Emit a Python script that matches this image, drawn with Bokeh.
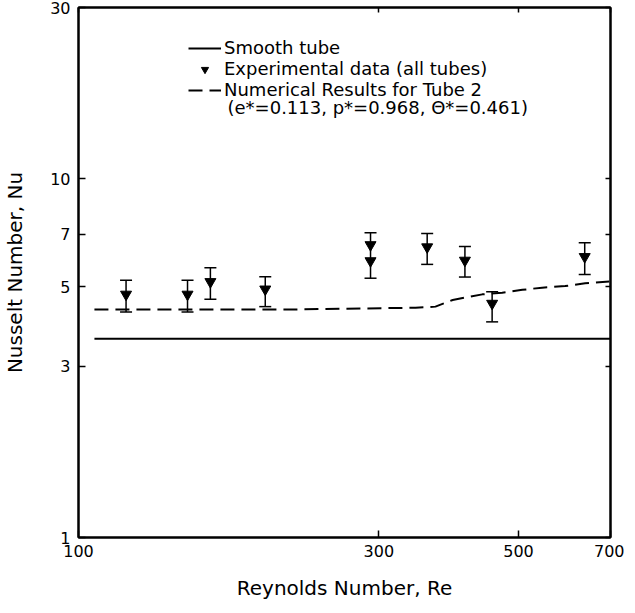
from bokeh.plotting import figure
from bokeh.models import (LogAxis, FixedTicker, Whisker, TeeHead, ColumnDataSource,
                          Legend, LegendItem, Label, Range1d)
from bokeh.embed import file_html
from bokeh.resources import INLINE

# ---- data ----
x_ticks = [100, 300, 500, 700]
y_ticks = [1, 3, 5, 7, 10, 30]

re_smooth = [106, 700]
nu_smooth = [3.58, 3.58]

re_num = [106, 219, 343, 369, 393, 410, 438, 471, 507, 545, 593, 638, 697]
nu_num = [4.32, 4.32, 4.37, 4.40, 4.59, 4.66, 4.76, 4.81, 4.90, 4.97, 5.02, 5.11, 5.17]

re_pts = [119, 149, 162, 198, 291, 291, 358, 411, 454, 637]
nu_pts = [4.76, 4.76, 5.16, 4.92, 6.54, 5.90, 6.45, 5.92, 4.49, 6.06]

re_bar = [119, 149, 162, 198, 291, 358, 411, 454, 637]
nu_lo = [4.25, 4.25, 4.61, 4.40, 5.28, 5.77, 5.32, 3.99, 5.41]
nu_hi = [5.21, 5.21, 5.65, 5.33, 7.07, 7.03, 6.47, 4.84, 6.63]

FONT = "DejaVu Sans"

p = figure(width=624, height=605, x_axis_type="log", y_axis_type="log",
           x_range=Range1d(100, 700), y_range=Range1d(1, 30),
           output_backend="svg", toolbar_location=None,
           min_border_left=77, min_border_right=14, min_border_top=7, min_border_bottom=68)

p.xgrid.visible = False
p.ygrid.visible = False
p.outline_line_color = "black"
p.outline_line_width = 2
p.background_fill_color = "white"
p.border_fill_color = "white"

# main axes
for ax, ticks in ((p.xaxis[0], x_ticks), (p.yaxis[0], y_ticks)):
    ax.ticker = FixedTicker(ticks=ticks, minor_ticks=[])
    ax.major_label_overrides = {t: str(t) for t in ticks}
    ax.major_tick_in = 7
    ax.major_tick_out = 0
    ax.minor_tick_in = 0
    ax.minor_tick_out = 0
    ax.major_tick_line_width = 1.5
    ax.axis_line_width = 2
    ax.major_label_text_font = FONT
    ax.major_label_text_font_size = "16px"
    ax.major_label_text_color = "black"
    ax.axis_label_text_font = FONT
    ax.axis_label_text_font_size = "20px"
    ax.axis_label_text_font_style = "normal"
    ax.axis_label_text_color = "black"

p.xaxis.axis_label = "Reynolds Number, Re"
p.yaxis.axis_label = "Nusselt Number, Nu"
p.xaxis.major_label_standoff = 7
p.xaxis.axis_label_standoff = 16
p.yaxis.major_label_standoff = 8
p.yaxis.axis_label_standoff = 20

# mirrored tick axes
top = LogAxis(ticker=FixedTicker(ticks=x_ticks, minor_ticks=[]),
              major_label_overrides={t: "" for t in x_ticks},
              major_label_text_font_size="0px", major_label_standoff=0,
              major_tick_in=5, major_tick_out=0, minor_tick_in=0, minor_tick_out=0,
              axis_line_width=2, major_tick_line_width=1.5)
right = LogAxis(ticker=FixedTicker(ticks=y_ticks, minor_ticks=[]),
                major_label_overrides={t: "" for t in y_ticks},
                major_label_text_font_size="0px", major_label_standoff=0,
                major_tick_in=5, major_tick_out=0, minor_tick_in=0, minor_tick_out=0,
                axis_line_width=2, major_tick_line_width=1.5)
p.add_layout(top, "above")
p.add_layout(right, "right")

# curves
r_smooth = p.line(re_smooth, nu_smooth, line_color="black", line_width=2)
r_num = p.line(re_num, nu_num, line_color="black", line_width=2, line_dash="14 7")

# error bars
src_bar = ColumnDataSource(dict(x=re_bar, lo=nu_lo, hi=nu_hi))
wh = Whisker(source=src_bar, base="x", lower="lo", upper="hi",
             line_color="black", line_width=1.5,
             upper_head=TeeHead(size=12, line_color="black", line_width=1.5),
             lower_head=TeeHead(size=12, line_color="black", line_width=1.5))
p.add_layout(wh)

r_exp = p.scatter(re_pts, nu_pts, marker="inverted_triangle", size=11,
                  fill_color="black", line_color="black")

legend = Legend(items=[
    LegendItem(label="Smooth tube", renderers=[r_smooth]),
    LegendItem(label="Experimental data (all tubes)", renderers=[r_exp]),
    LegendItem(label="Numerical Results for Tube 2", renderers=[r_num]),
], location=(110, 437), orientation="vertical",
    label_text_font=FONT, label_text_font_size="18px", label_text_color="black",
    label_height=18, glyph_height=18, glyph_width=33, label_standoff=3,
    spacing=-3, padding=0, margin=0,
    border_line_color=None, background_fill_alpha=0)
p.add_layout(legend)

p.add_layout(Label(x=149, y=430, x_units="screen", y_units="screen",
                   text="(e*=0.113, p*=0.968, \u0398*=0.461)",
                   text_font=FONT, text_font_size="18px", text_color="black",
                   text_baseline="middle"))

open("out.html", "w").write(file_html(p, INLINE))
